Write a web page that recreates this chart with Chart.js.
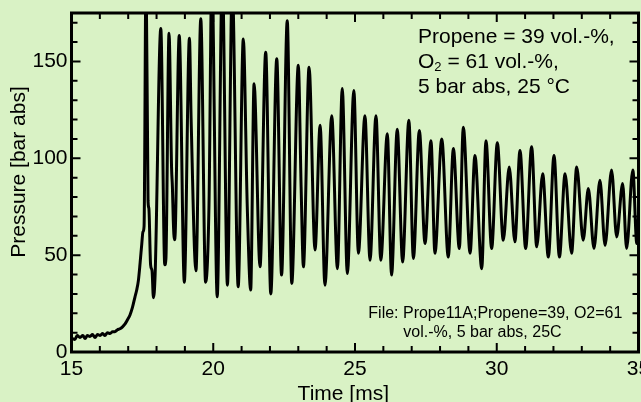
<!DOCTYPE html>
<html>
<head>
<meta charset="utf-8">
<script src="https://cdn.jsdelivr.net/npm/chart.js@4.4.0/dist/chart.umd.min.js"></script>
<style>
    html, body { margin: 0; padding: 0; background: #d9f2c5; }
    #wrap { width: 641px; height: 402px; }
</style>
</head>
<body>
<div id="wrap"><canvas id="chart1" width="641" height="402"></canvas></div>
<script>
// pressure trace (time in ms, pressure in bar abs)
const timeMs = [
    15.02, 15.12, 15.20, 15.30, 15.40, 15.48, 15.56, 15.65, 15.74, 15.83,
    15.92, 16.01, 16.10, 16.18, 16.27, 16.36, 16.45, 16.53, 16.62, 16.71,
    16.80, 16.89, 16.97, 17.06, 17.15, 17.24, 17.30, 17.36, 17.42, 17.48,
    17.52, 17.56, 17.63, 17.70, 17.73, 17.79, 17.84, 17.89, 17.95, 18.15,
    18.29, 18.33, 18.44, 18.53, 18.56, 18.59, 18.63, 18.66, 18.80, 18.98,
    19.16, 19.22, 19.39, 19.56, 19.73, 19.85, 19.95, 20.14, 20.32, 20.50,
    20.67, 20.88, 21.06, 21.20, 21.32, 21.44, 21.65, 21.85, 22.03, 22.24,
    22.41, 22.61, 22.77, 23.00, 23.10, 23.18, 23.38, 23.59, 23.77, 23.94,
    24.18, 24.38, 24.55, 24.73, 24.96, 25.12, 25.35, 25.53, 25.74, 25.91,
    26.14, 26.29, 26.49, 26.68, 26.90, 27.06, 27.27, 27.47, 27.68, 27.82,
    28.06, 28.29, 28.47, 28.68, 28.82, 29.06, 29.23, 29.47, 29.62, 29.82,
    30.02, 30.23, 30.44, 30.64, 30.82, 31.02, 31.23, 31.41, 31.62, 31.82,
    32.02, 32.21, 32.41, 32.64, 32.82, 33.05, 33.23, 33.43, 33.64, 33.82,
    34.05, 34.23, 34.44, 34.58, 34.80, 34.94, 35.00
];
const pressureBar = [
    7, 6.5, 8.5, 7.5, 8.5, 7, 8.5, 8, 9, 7.5,
    9, 8.5, 9.5, 8.5, 10, 9.5, 10.5, 10.5, 11.5, 12,
    13, 14.5, 16.5, 19, 23, 28.5, 32, 37, 46, 56,
    62, 65, 200, 78, 74, 45, 42, 28, 40, 167,
    45, 48, 164.6, 95, 85, 68, 58, 62, 163.4, 36,
    162, 120, 42, 172, 36, 76, 195, 28.5, 195, 34.5,
    190, 33.7, 161.6, 75, 32, 138.5, 44, 154.8, 30, 151.4,
    39.7, 171, 35.4, 148, 85, 44, 147, 52.6, 117, 34.5,
    122, 43, 136, 40.5, 135, 51, 122, 47.4, 122, 47.4,
    112.7, 39.7, 115, 46.5, 119.6, 48.3, 114.4, 56, 109, 51,
    110, 49, 105, 53.4, 116, 51, 101.5, 43, 109, 53.4,
    108, 57.7, 95.5, 56.9, 104, 53.4, 106, 54.3, 92, 49,
    101.5, 49, 92, 51, 95.5, 57.7, 84.4, 53.4, 88.7, 55,
    94, 59.4, 87, 53.4, 94, 56, 70
];
const xTickValues = [15, 20, 25, 30, 35];
const yTickValues = [0, 50, 100, 150];
const infoLines = ['Propene = 39 vol.-%,', ' = 61 vol.-%,', '5 bar abs, 25 \u00b0C'];
const fileLines = ['File: Prope11A;Propene=39, O2=61', 'vol.-%, 5 bar abs, 25C'];

const FONT = '"Liberation Sans", Arial, sans-serif';
const BG = '#d9f2c5';

const framePlugin = {
    id: 'frame',
    beforeDraw(chart) {
        const ctx = chart.ctx;
        ctx.save();
        ctx.fillStyle = BG;
        ctx.fillRect(0, 0, chart.width, chart.height);
        ctx.restore();
    },
    afterDraw(chart) {
        const ctx = chart.ctx;
        const a = chart.chartArea;
        const x = chart.scales.x;
        const y = chart.scales.y;
        ctx.save();
        ctx.strokeStyle = '#000';
        ctx.lineWidth = 2;
        ctx.beginPath();
        // inward ticks on all four sides, minor every 1 ms / 10 bar
        for (let v = 15; v <= 35; v += 1) {
            const px = x.getPixelForValue(v);
            const len = v % 5 === 0 ? 9 : 6;
            ctx.moveTo(px, a.bottom); ctx.lineTo(px, a.bottom - len);
            ctx.moveTo(px, a.top); ctx.lineTo(px, a.top + len);
        }
        for (let v = 0; v <= 170; v += 10) {
            const py = y.getPixelForValue(v);
            const len = v % 50 === 0 ? 9 : 6;
            ctx.moveTo(a.left, py); ctx.lineTo(a.left + len, py);
            ctx.moveTo(a.right, py); ctx.lineTo(a.right - len, py);
        }
        ctx.stroke();
        ctx.lineWidth = 3;
        ctx.strokeRect(a.left, a.top, a.right - a.left, a.bottom - a.top);

        ctx.fillStyle = '#000';
        // axis titles
        ctx.font = '21px ' + FONT;
        ctx.textAlign = 'center';
        ctx.textBaseline = 'alphabetic';
        ctx.fillText('Time [ms]', 343.3, 399.5);
        ctx.save();
        ctx.translate(25, 172);
        ctx.rotate(-Math.PI / 2);
        ctx.fillText('Pressure [bar abs]', 0, 0);
        ctx.restore();

        // conditions box, top right
        ctx.textAlign = 'left';
        ctx.font = '21px ' + FONT;
        ctx.fillText(infoLines[0], 418, 43);
        ctx.fillText('O', 418, 68);
        let cx = 418 + ctx.measureText('O').width;
        ctx.font = '13px ' + FONT;
        ctx.fillText('2', cx, 71);
        cx += ctx.measureText('2').width;
        ctx.font = '21px ' + FONT;
        ctx.fillText(infoLines[1], cx, 68);
        ctx.fillText(infoLines[2], 418, 93);

        // file note
        ctx.font = '16px ' + FONT;
        ctx.fillText(fileLines[0], 368.3, 318);
        ctx.fillText(fileLines[1], 403.3, 336.7);
        ctx.restore();
    }
};

const ctx = document.getElementById('chart1');
new Chart(ctx, {
    type: 'line',
    data: {
        datasets: [{
            label: 'Pressure',
            data: timeMs.map((t, i) => ({ x: t, y: pressureBar[i] })),
            borderColor: '#000',
            borderWidth: 3,
            pointRadius: 0,
            cubicInterpolationMode: 'monotone',
            fill: false
        }]
    },
    options: {
        responsive: false,
        animation: false,
        events: [],
        layout: { padding: { top: 13, right: 2.5, left: 0, bottom: 0 } },
        plugins: { legend: { display: false }, tooltip: { enabled: false } },
        scales: {
            x: {
                type: 'linear',
                min: 15,
                max: 35,
                afterBuildTicks(scale) { scale.ticks = xTickValues.map(v => ({ value: v })); },
                afterFit(scale) { scale.height = 50; scale.paddingLeft = 0; scale.paddingRight = 0; },
                grid: { display: false, drawTicks: false },
                border: { display: false },
                ticks: { color: '#000', font: { family: FONT, size: 21 }, padding: 5, maxRotation: 0, autoSkip: false }
            },
            y: {
                type: 'linear',
                min: 0,
                max: 175,
                afterBuildTicks(scale) { scale.ticks = yTickValues.map(v => ({ value: v })); },
                afterFit(scale) { scale.width = 71.5; scale.paddingTop = 0; scale.paddingBottom = 0; },
                grid: { display: false, drawTicks: false },
                border: { display: false },
                ticks: { color: '#000', font: { family: FONT, size: 21 }, padding: 4 }
            }
        }
    },
    plugins: [framePlugin]
});
</script>
</body>
</html>
